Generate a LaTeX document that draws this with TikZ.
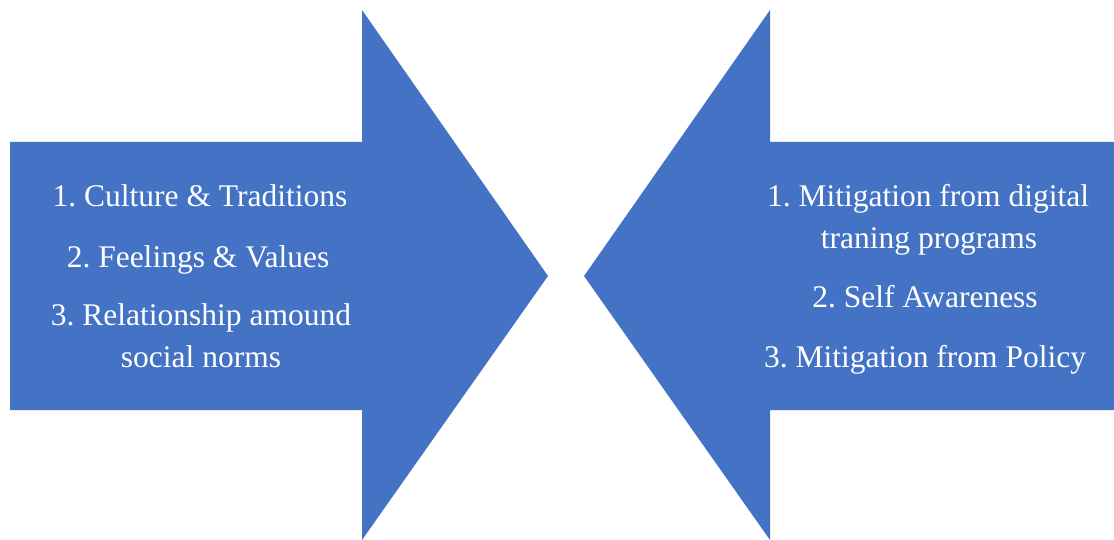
\documentclass[tikz,border=0pt]{standalone}
\usepackage{fontspec}
\setmainfont{Liberation Serif}
\frenchspacing
\begin{document}
\begin{tikzpicture}[x=1pt,y=-1pt,
  itemtext/.style={text=white,inner sep=0pt,anchor=base,
    font=\fontsize{31.5}{37}\selectfont}]
\definecolor{arrowblue}{HTML}{4472C4}
\useasboundingbox (0,0) rectangle (1114,540);
% left arrow, pointing right
\fill[arrowblue] (10,142) -- (362,142) -- (362,10) -- (548,276)
  -- (362,540) -- (362,410) -- (10,410) -- cycle;
% right arrow, pointing left
\fill[arrowblue] (1114,142) -- (770,142) -- (770,10) -- (584,276)
  -- (770,540) -- (770,410) -- (1114,410) -- cycle;
% left list
\node[itemtext] (l1) at (200,207) {1. Culture \& Traditions};
\node[itemtext] (l2) at (198,267) {2. Feelings \& Values};
\node[itemtext] (l3) at (201,325) {3. Relationship amound};
\node[itemtext] (l3b) at (201,367) {social norms};
% right list
\node[itemtext] (r1) at (928,207) {1. Mitigation from digital};
\node[itemtext] (r1b) at (929,248) {traning programs};
\node[itemtext] (r2) at (925,307) {2. Self Awareness};
\node[itemtext] (r3) at (925,367) {3. Mitigation from Policy};
\end{tikzpicture}
\end{document}
